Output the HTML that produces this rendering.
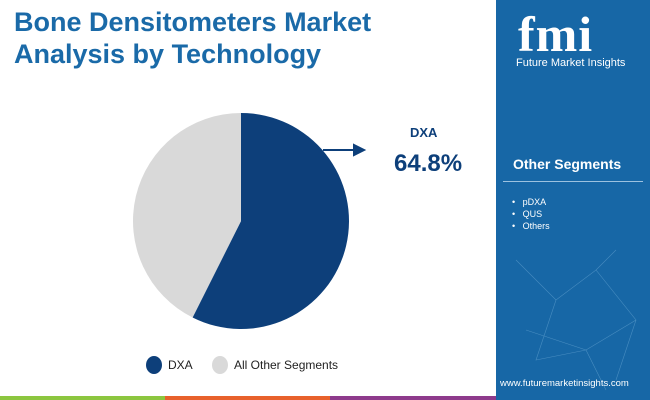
<!DOCTYPE html>
<html><head><meta charset="utf-8"><style>
body{margin:0;width:650px;height:400px;overflow:hidden;font-family:"Liberation Sans",sans-serif;background:#fff;position:relative}
.t{position:absolute;left:14px;top:6px;font-size:27px;font-weight:bold;color:#1a6aa8;line-height:32px}
.panel{position:absolute;left:496px;top:0;width:154px;height:400px;background:#1767a6}
</style></head><body>
<div class="t">Bone Densitometers Market<br>Analysis by Technology</div>
<div class="panel">
 <div style="position:absolute;left:22px;top:12px;font-size:50px;font-weight:bold;color:#fff;font-family:'Liberation Serif',serif;line-height:45px;letter-spacing:1px">fmi</div>
 <div style="position:absolute;left:20px;top:57px;font-size:11px;color:#fff">Future Market Insights</div>
 <div style="position:absolute;left:17px;top:156px;font-size:14px;font-weight:bold;color:#fff">Other Segments</div>
 <div style="position:absolute;left:7px;top:181px;width:140px;height:1px;background:#9cc2e0"></div>
 <div style="position:absolute;left:16px;top:196px;font-size:9px;color:#fff;line-height:12px">•&nbsp;&nbsp;&nbsp;pDXA<br>•&nbsp;&nbsp;&nbsp;QUS<br>•&nbsp;&nbsp;&nbsp;Others</div>
 <svg style="position:absolute;left:0;top:240px" width="154" height="160"><g stroke="#5d9ccc" stroke-width="0.6" fill="none" opacity="0.7"><path d="M20 20L60 60L100 30L140 80L120 140M60 60L40 120L90 110L140 80M30 90L90 110L110 150M100 30L120 10"/></g></svg>
 <div style="position:absolute;left:4px;top:378px;font-size:9.5px;color:#fff">www.futuremarketinsights.com</div>
</div>
<div style="position:absolute;top:396px;left:0;width:165px;height:4px;background:#8cc63f"></div>
<div style="position:absolute;top:396px;left:165px;width:165px;height:4px;background:#e8612c"></div>
<div style="position:absolute;top:396px;left:330px;width:166px;height:4px;background:#8e3a8c"></div>
<svg id="pie" width="496" height="396" style="position:absolute;left:0;top:0"></svg>
<div style="position:absolute;left:410px;top:125px;font-size:13px;font-weight:bold;color:#0d3f7a">DXA</div>
<div style="position:absolute;left:394px;top:150px;font-size:24px;font-weight:bold;color:#0d3f7a" id="val"></div>
<div style="position:absolute;left:146px;top:356px;width:16px;height:18px;border-radius:50%;background:#0d3f7a"></div>
<div style="position:absolute;left:168px;top:358px;font-size:12px;color:#222">DXA</div>
<div style="position:absolute;left:212px;top:356px;width:16px;height:18px;border-radius:50%;background:#d9d9d9"></div>
<div style="position:absolute;left:234px;top:358px;font-size:12px;color:#222">All Other Segments</div>
<script>
const categories=["DXA","All Other Segments"];
const sliceValues=[57.4,42.6];
const labelValues=["64.8%"];
const colors=["#0d3f7a","#d9d9d9"];
document.getElementById('val').textContent=labelValues[0];
const svg=document.getElementById('pie'),cx=241,cy=221,r=108,ns="http://www.w3.org/2000/svg";
const tot=sliceValues.reduce((a,b)=>a+b,0);let a0=0;
sliceValues.forEach((v,i)=>{const a1=a0+v/tot*2*Math.PI;
const x0=cx+r*Math.sin(a0),y0=cy-r*Math.cos(a0),x1=cx+r*Math.sin(a1),y1=cy-r*Math.cos(a1);
const p=document.createElementNS(ns,'path');
p.setAttribute('d',`M${cx} ${cy}L${x0} ${y0}A${r} ${r} 0 ${a1-a0>Math.PI?1:0} 1 ${x1} ${y1}Z`);
p.setAttribute('fill',colors[i]);


svg.appendChild(p);a0=a1;});
const ar=document.createElementNS(ns,'path');
ar.setAttribute('d','M323 150L360 150M354 145L364 150L354 155Z');
ar.setAttribute('stroke','#0d3f7a');ar.setAttribute('stroke-width','2');ar.setAttribute('fill','#0d3f7a');


svg.appendChild(ar);
</script>
</body></html>
